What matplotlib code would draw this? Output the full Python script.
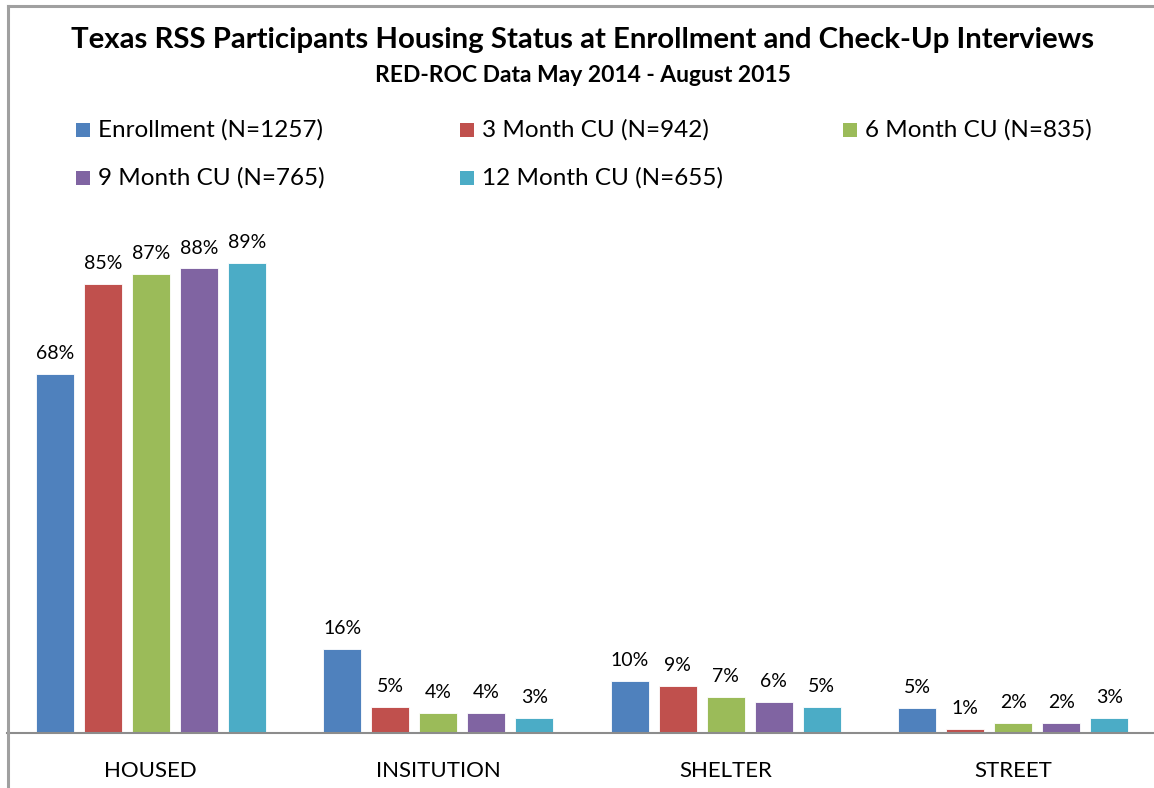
import matplotlib
matplotlib.use("Agg")
import matplotlib.pyplot as plt
from matplotlib.patches import Rectangle
from matplotlib.lines import Line2D
import numpy as np

plt.rcParams['font.family'] = ['Lato', 'DejaVu Sans']

categories = ["HOUSED", "INSITUTION", "SHELTER", "STREET"]
series_names = ["Enrollment (N=1257)", "3 Month CU (N=942)", "6 Month CU (N=835)",
                "9 Month CU (N=765)", "12 Month CU (N=655)"]
enrollment = [68.0, 15.9, 9.8, 4.7]
month3 = [85.0, 4.9, 8.9, 0.8]
month6 = [87.0, 3.8, 6.8, 1.9]
month9 = [88.0, 3.8, 5.9, 1.9]
month12 = [89.0, 2.8, 4.9, 2.8]
series_values = [enrollment, month3, month6, month9, month12]
colors = ["#4F81BD", "#C0504D", "#9BBB59", "#8064A2", "#4BACC6"]

W, H = 1154, 788
fig = plt.figure(figsize=(W / 100, H / 100), dpi=100)

px_per_pct = 5.28
ax_left, ax_right = 7, 1154
base_y = 733
top_y = 200
ax = fig.add_axes([ax_left / W, (H - base_y) / H, (ax_right - ax_left) / W, (base_y - top_y) / H])
cat_w = 287.5
ax.set_xlim(-0.5, -0.5 + (ax_right - ax_left) / cat_w)
ax.set_ylim(0, (base_y - top_y) / px_per_pct)

x = np.arange(len(categories))
step = 48 / cat_w
bw = 38 / cat_w
for i, (vals, col) in enumerate(zip(series_values, colors)):
    pos = x + (i - 2) * step
    bars = ax.bar(pos, vals, width=bw, color=col, edgecolor="white", linewidth=0.6, zorder=2)
    for b, v in zip(bars, vals):
        ax.annotate(f"{round(v):.0f}%", (b.get_x() + b.get_width() / 2, v),
                    xytext=(0, 8.5), textcoords="offset points", ha="center", va="bottom",
                    fontsize=14, color="black")

for s in ["top", "right", "left"]:
    ax.spines[s].set_visible(False)
ax.spines["bottom"].set_color("#8C8C8C")
ax.spines["bottom"].set_linewidth(1.5)
ax.set_yticks([])
ax.set_xticks(x)
ax.set_xticklabels(categories, fontsize=16)
ax.tick_params(axis="x", length=0, pad=20)

# chart border (left and top edges visible)
fig.add_artist(Line2D([7.5 / W, 7.5 / W], [0, 1 - 6 / H], color="#A0A0A0", linewidth=2.2))
fig.add_artist(Line2D([7.5 / W, 1], [1 - 6 / H, 1 - 6 / H], color="#A0A0A0", linewidth=2.2))

fig.text(583 / W, 1 - 40 / H, "Texas RSS Participants Housing Status at Enrollment and Check-Up Interviews",
         ha="center", va="center", fontsize=21.2, fontweight="bold")
fig.text(583 / W, 1 - 76 / H, "RED-ROC Data May 2014 - August 2015",
         ha="center", va="center", fontsize=16.5, fontweight="bold")

# legend
leg_pos = [(76, 130), (460, 130), (843, 130), (76, 178), (460, 178)]
sq = 14
for (lx, ly), name, col in zip(leg_pos, series_names, colors):
    fig.add_artist(Rectangle((lx / W, 1 - (ly + sq / 2) / H), sq / W, sq / H,
                             transform=fig.transFigure, facecolor=col, edgecolor="none"))
    fig.text((lx + 22) / W, 1 - ly / H, name, ha="left", va="center", fontsize=17.5)

fig.savefig("out.png", dpi=100)
